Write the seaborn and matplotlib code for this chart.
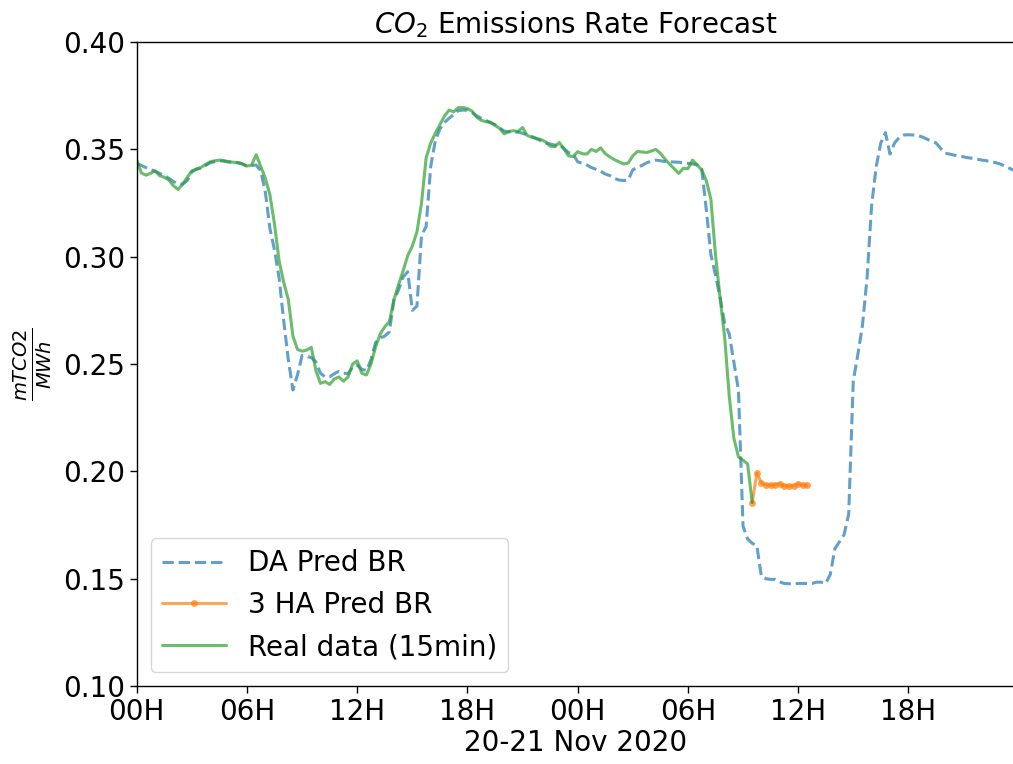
import numpy as np
import pandas as pd
import matplotlib
matplotlib.use("Agg")
import matplotlib.pyplot as plt
import matplotlib.dates as mdates
import seaborn as sns

# Day-ahead prediction, 15-minute steps from 2020-11-20 00:00
da_pred = [
    0.3435, 0.3425, 0.3415, 0.3406, 0.3398, 0.3388, 0.3378, 0.3365,
    0.3350, 0.3340, 0.3338, 0.3355, 0.3395, 0.3408, 0.3412, 0.3425,
    0.3438, 0.3443, 0.3447, 0.3445, 0.3441, 0.3440, 0.3438, 0.3432,
    0.3422, 0.3425, 0.3427, 0.3400, 0.3300, 0.3130, 0.3030, 0.2900,
    0.2700, 0.2520, 0.2379, 0.2450, 0.2540, 0.2536, 0.2530, 0.2510,
    0.2457, 0.2440, 0.2441, 0.2455, 0.2466, 0.2458, 0.2455, 0.2485,
    0.2495, 0.2475, 0.2470, 0.2520, 0.2600, 0.2622, 0.2630, 0.2650,
    0.2800, 0.2845, 0.2905, 0.2930, 0.2750, 0.2770, 0.3100, 0.3140,
    0.3420, 0.3540, 0.3595, 0.3625, 0.3645, 0.3662, 0.3680, 0.3683,
    0.3682, 0.3672, 0.3656, 0.3645, 0.3635, 0.3625, 0.3615, 0.3600,
    0.3585, 0.3582, 0.3582, 0.3580, 0.3575, 0.3568, 0.3560, 0.3550,
    0.3540, 0.3530, 0.3525, 0.3520, 0.3520, 0.3505, 0.3485, 0.3478,
    0.3442, 0.3435, 0.3427, 0.3415, 0.3407, 0.3398, 0.3385, 0.3378,
    0.3365, 0.3357, 0.3355, 0.3357, 0.3405, 0.3415, 0.3425, 0.3437,
    0.3445, 0.3450, 0.3447, 0.3443, 0.3442, 0.3441, 0.3440, 0.3437,
    0.3435, 0.3432, 0.3428, 0.3410, 0.3220, 0.3010, 0.2915, 0.2810,
    0.2690, 0.2640, 0.2510, 0.2379, 0.1745, 0.1685, 0.1665, 0.1655,
    0.1510, 0.1500, 0.1497, 0.1497, 0.1485, 0.1478, 0.1477, 0.1477,
    0.1478, 0.1478, 0.1478, 0.1478, 0.1484, 0.1484, 0.1478, 0.1520,
    0.1640, 0.1672, 0.1705, 0.1800, 0.2420, 0.2545, 0.2680, 0.2900,
    0.3240, 0.3420, 0.3530, 0.3578, 0.3478, 0.3530, 0.3555, 0.3567,
    0.3568, 0.3567, 0.3565, 0.3558, 0.3548, 0.3538, 0.3530, 0.3505,
    0.3482, 0.3478, 0.3473, 0.3469, 0.3465, 0.3461, 0.3458, 0.3454,
    0.3450, 0.3447, 0.3443, 0.3438, 0.3432, 0.3422, 0.3412, 0.3402,
]

# Measured emissions rate, 15-minute steps from 2020-11-20 00:00
real_data = [
    0.3450, 0.3390, 0.3380, 0.3388, 0.3400, 0.3377, 0.3370, 0.3357,
    0.3330, 0.3313, 0.3338, 0.3370, 0.3400, 0.3408, 0.3416, 0.3430,
    0.3442, 0.3447, 0.3450, 0.3447, 0.3443, 0.3440, 0.3438, 0.3432,
    0.3422, 0.3427, 0.3475, 0.3420, 0.3365, 0.3287, 0.3150, 0.2980,
    0.2880, 0.2800, 0.2630, 0.2568, 0.2560, 0.2565, 0.2578, 0.2470,
    0.2410, 0.2418, 0.2405, 0.2430, 0.2440, 0.2420, 0.2440, 0.2500,
    0.2515, 0.2457, 0.2449, 0.2500, 0.2580, 0.2640, 0.2674, 0.2697,
    0.2800, 0.2870, 0.2935, 0.3005, 0.3050, 0.3115, 0.3250, 0.3460,
    0.3530, 0.3575, 0.3615, 0.3655, 0.3683, 0.3675, 0.3694, 0.3695,
    0.3690, 0.3678, 0.3650, 0.3635, 0.3629, 0.3626, 0.3612, 0.3598,
    0.3572, 0.3583, 0.3587, 0.3583, 0.3602, 0.3565, 0.3556, 0.3551,
    0.3546, 0.3535, 0.3515, 0.3512, 0.3532, 0.3502, 0.3470, 0.3467,
    0.3489, 0.3480, 0.3478, 0.3500, 0.3490, 0.3507, 0.3480, 0.3465,
    0.3452, 0.3442, 0.3432, 0.3436, 0.3470, 0.3490, 0.3488, 0.3485,
    0.3492, 0.3500, 0.3482, 0.3455, 0.3432, 0.3410, 0.3388, 0.3412,
    0.3410, 0.3450, 0.3428, 0.3404, 0.3355, 0.3268, 0.3010, 0.2810,
    0.2625, 0.2350, 0.2155, 0.2068, 0.2052, 0.2035, 0.1855,
]

# Three-hour-ahead prediction, 15-minute steps from 2020-11-21 09:30
ha3_pred = [
    0.1855, 0.1991, 0.1947, 0.1936, 0.1936, 0.1938, 0.1942,
    0.1933, 0.1932, 0.1933, 0.1942, 0.1936, 0.1935,
]

series_labels = ["DA Pred BR", "3 HA Pred BR", "Real data (15min)"]
tick_hours = [0, 6, 12, 18]

da_times = pd.date_range("2020-11-20 00:00", periods=len(da_pred), freq="15min")
real_times = pd.date_range("2020-11-20 00:00", periods=len(real_data), freq="15min")
ha3_times = pd.date_range("2020-11-21 09:30", periods=len(ha3_pred), freq="15min")

sns.set_style("ticks")
plt.rcParams["font.family"] = ["DejaVu Sans"]
plt.rcParams["mathtext.fontset"] = "dejavusans"
for key in ["text.color", "axes.labelcolor", "xtick.color", "ytick.color",
            "axes.edgecolor"]:
    plt.rcParams[key] = "black"

fig = plt.figure(figsize=(10.13, 7.64), dpi=100)
ax = fig.add_axes([0.135, 0.102, 0.866, 0.843])

palette = sns.color_palette("tab10")
sns.lineplot(x=da_times, y=da_pred, ax=ax, color=palette[0], alpha=0.7,
             linestyle="--", linewidth=2.2, label=series_labels[0])
sns.lineplot(x=ha3_times, y=ha3_pred, ax=ax, color=palette[1], alpha=0.7,
             linewidth=2.2, marker="o", markersize=5, markeredgewidth=0,
             label=series_labels[1])
sns.lineplot(x=real_times, y=real_data, ax=ax, color=palette[2], alpha=0.7,
             linewidth=2.2, label=series_labels[2])

ax.set_xlim(da_times[0], da_times[-1])
ax.set_ylim(0.10, 0.40)
ax.set_yticks(np.arange(0.10, 0.401, 0.05))
ax.yaxis.set_major_formatter(matplotlib.ticker.FormatStrFormatter("%.2f"))
ax.xaxis.set_major_locator(mdates.HourLocator(byhour=tick_hours))
ax.xaxis.set_major_formatter(mdates.DateFormatter("%HH"))

for side in ["top", "right", "left", "bottom"]:
    ax.spines[side].set_visible(True)
    ax.spines[side].set_linewidth(1.0)
    ax.spines[side].set_color("black")

ax.tick_params(axis="both", labelsize=20, length=5, width=1, color="black",
               labelcolor="black", direction="out")
ax.set_title("$CO_2$ Emissions Rate Forecast", fontsize=20, color="black")
ax.set_xlabel("20-21 Nov 2020", fontsize=20, labelpad=2, color="black")
ax.set_ylabel(r"$\frac{mTCO2}{MWh}$", fontsize=20, color="black", labelpad=6)

leg = ax.legend(loc="lower left", fontsize=20, handlelength=2.3, frameon=True)
for text in leg.get_texts():
    text.set_color("black")

fig.savefig("out.png", dpi=100)
